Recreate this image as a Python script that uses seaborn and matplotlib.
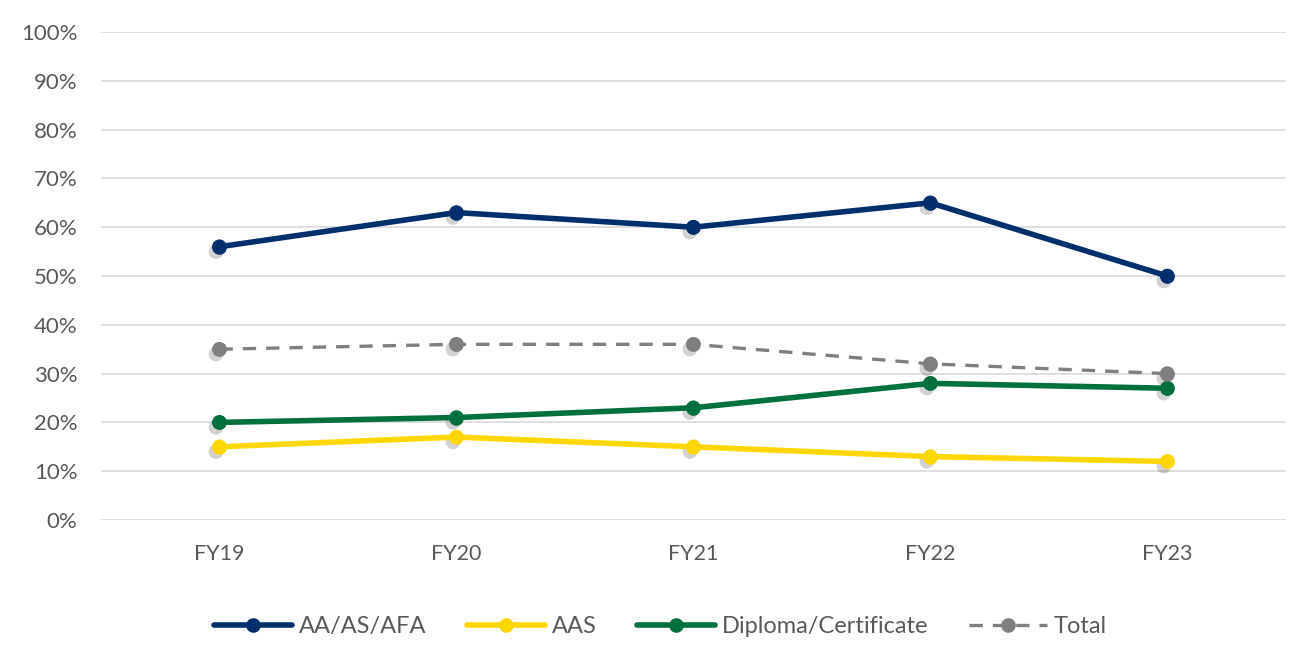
import pandas as pd
import matplotlib.pyplot as plt
import matplotlib.patheffects as pe
from matplotlib.ticker import PercentFormatter
import seaborn as sns

years = ["FY19", "FY20", "FY21", "FY22", "FY23"]
aa = [0.56, 0.63, 0.60, 0.65, 0.50]
aas = [0.15, 0.17, 0.15, 0.13, 0.12]
diploma = [0.20, 0.21, 0.23, 0.28, 0.27]
total = [0.35, 0.36, 0.36, 0.32, 0.30]

series = {
    "AA/AS/AFA": aa,
    "AAS": aas,
    "Diploma/Certificate": diploma,
    "Total": total,
}
colors = {
    "AA/AS/AFA": "#002f6c",
    "AAS": "#ffd700",
    "Diploma/Certificate": "#00703c",
    "Total": "#7f7f7f",
}

sns.set_style("white")
plt.rcParams["font.family"] = ["Lato", "DejaVu Sans"]

fig = plt.figure(figsize=(13.08, 6.56), dpi=100)
ax = fig.add_axes([0.0772, 0.2073, 0.9058, 0.7439])

shadow = [pe.SimplePatchShadow(offset=(-2.5, -3.5), alpha=0.22, shadow_rgbFace="#333333"), pe.Normal()]

for name, vals in series.items():
    df = pd.DataFrame({"x": range(len(years)), "y": vals})
    dashed = name == "Total"
    # marker shadows first, underneath everything
    mk = ax.plot(df["x"], df["y"], ls="none", marker="o", markersize=10.5,
                 markeredgewidth=0, color=colors[name], zorder=2)[0]
    mk.set_path_effects(shadow)
    sns.lineplot(ax=ax, data=df, x="x", y="y", color=colors[name],
                 lw=2.4 if dashed else 4.0,
                 linestyle=(0, (4, 3)) if dashed else "-",
                 marker="o", markersize=10.5, markeredgewidth=0,
                 label=name, zorder=3)

ax.set_xlim(-0.5, len(years) - 0.5)
ax.set_ylim(0, 1)
ax.set_xticks(range(len(years)))
ax.set_xticklabels(years)
ax.set_yticks([i / 10 for i in range(11)])
ax.yaxis.set_major_formatter(PercentFormatter(1.0, decimals=0))
ax.set_xlabel("")
ax.set_ylabel("")
ax.grid(axis="y", color="#d9d9d9", lw=1.2)
ax.set_axisbelow(True)
for s in ax.spines.values():
    s.set_visible(False)
ax.tick_params(axis="both", length=0, colors="#595959")
ax.tick_params(axis="y", pad=17, labelsize=16)
ax.tick_params(axis="x", pad=17, labelsize=15.5)

ax.legend_.remove()
handles, labels = ax.get_legend_handles_labels()
fig.legend(handles, labels, loc="center", bbox_to_anchor=(0.505, 0.045),
           ncol=4, frameon=False, handlelength=3.3, columnspacing=1.7,
           handletextpad=0.3, labelcolor="#595959", fontsize=17)

plt.savefig("out.png", dpi=100)
